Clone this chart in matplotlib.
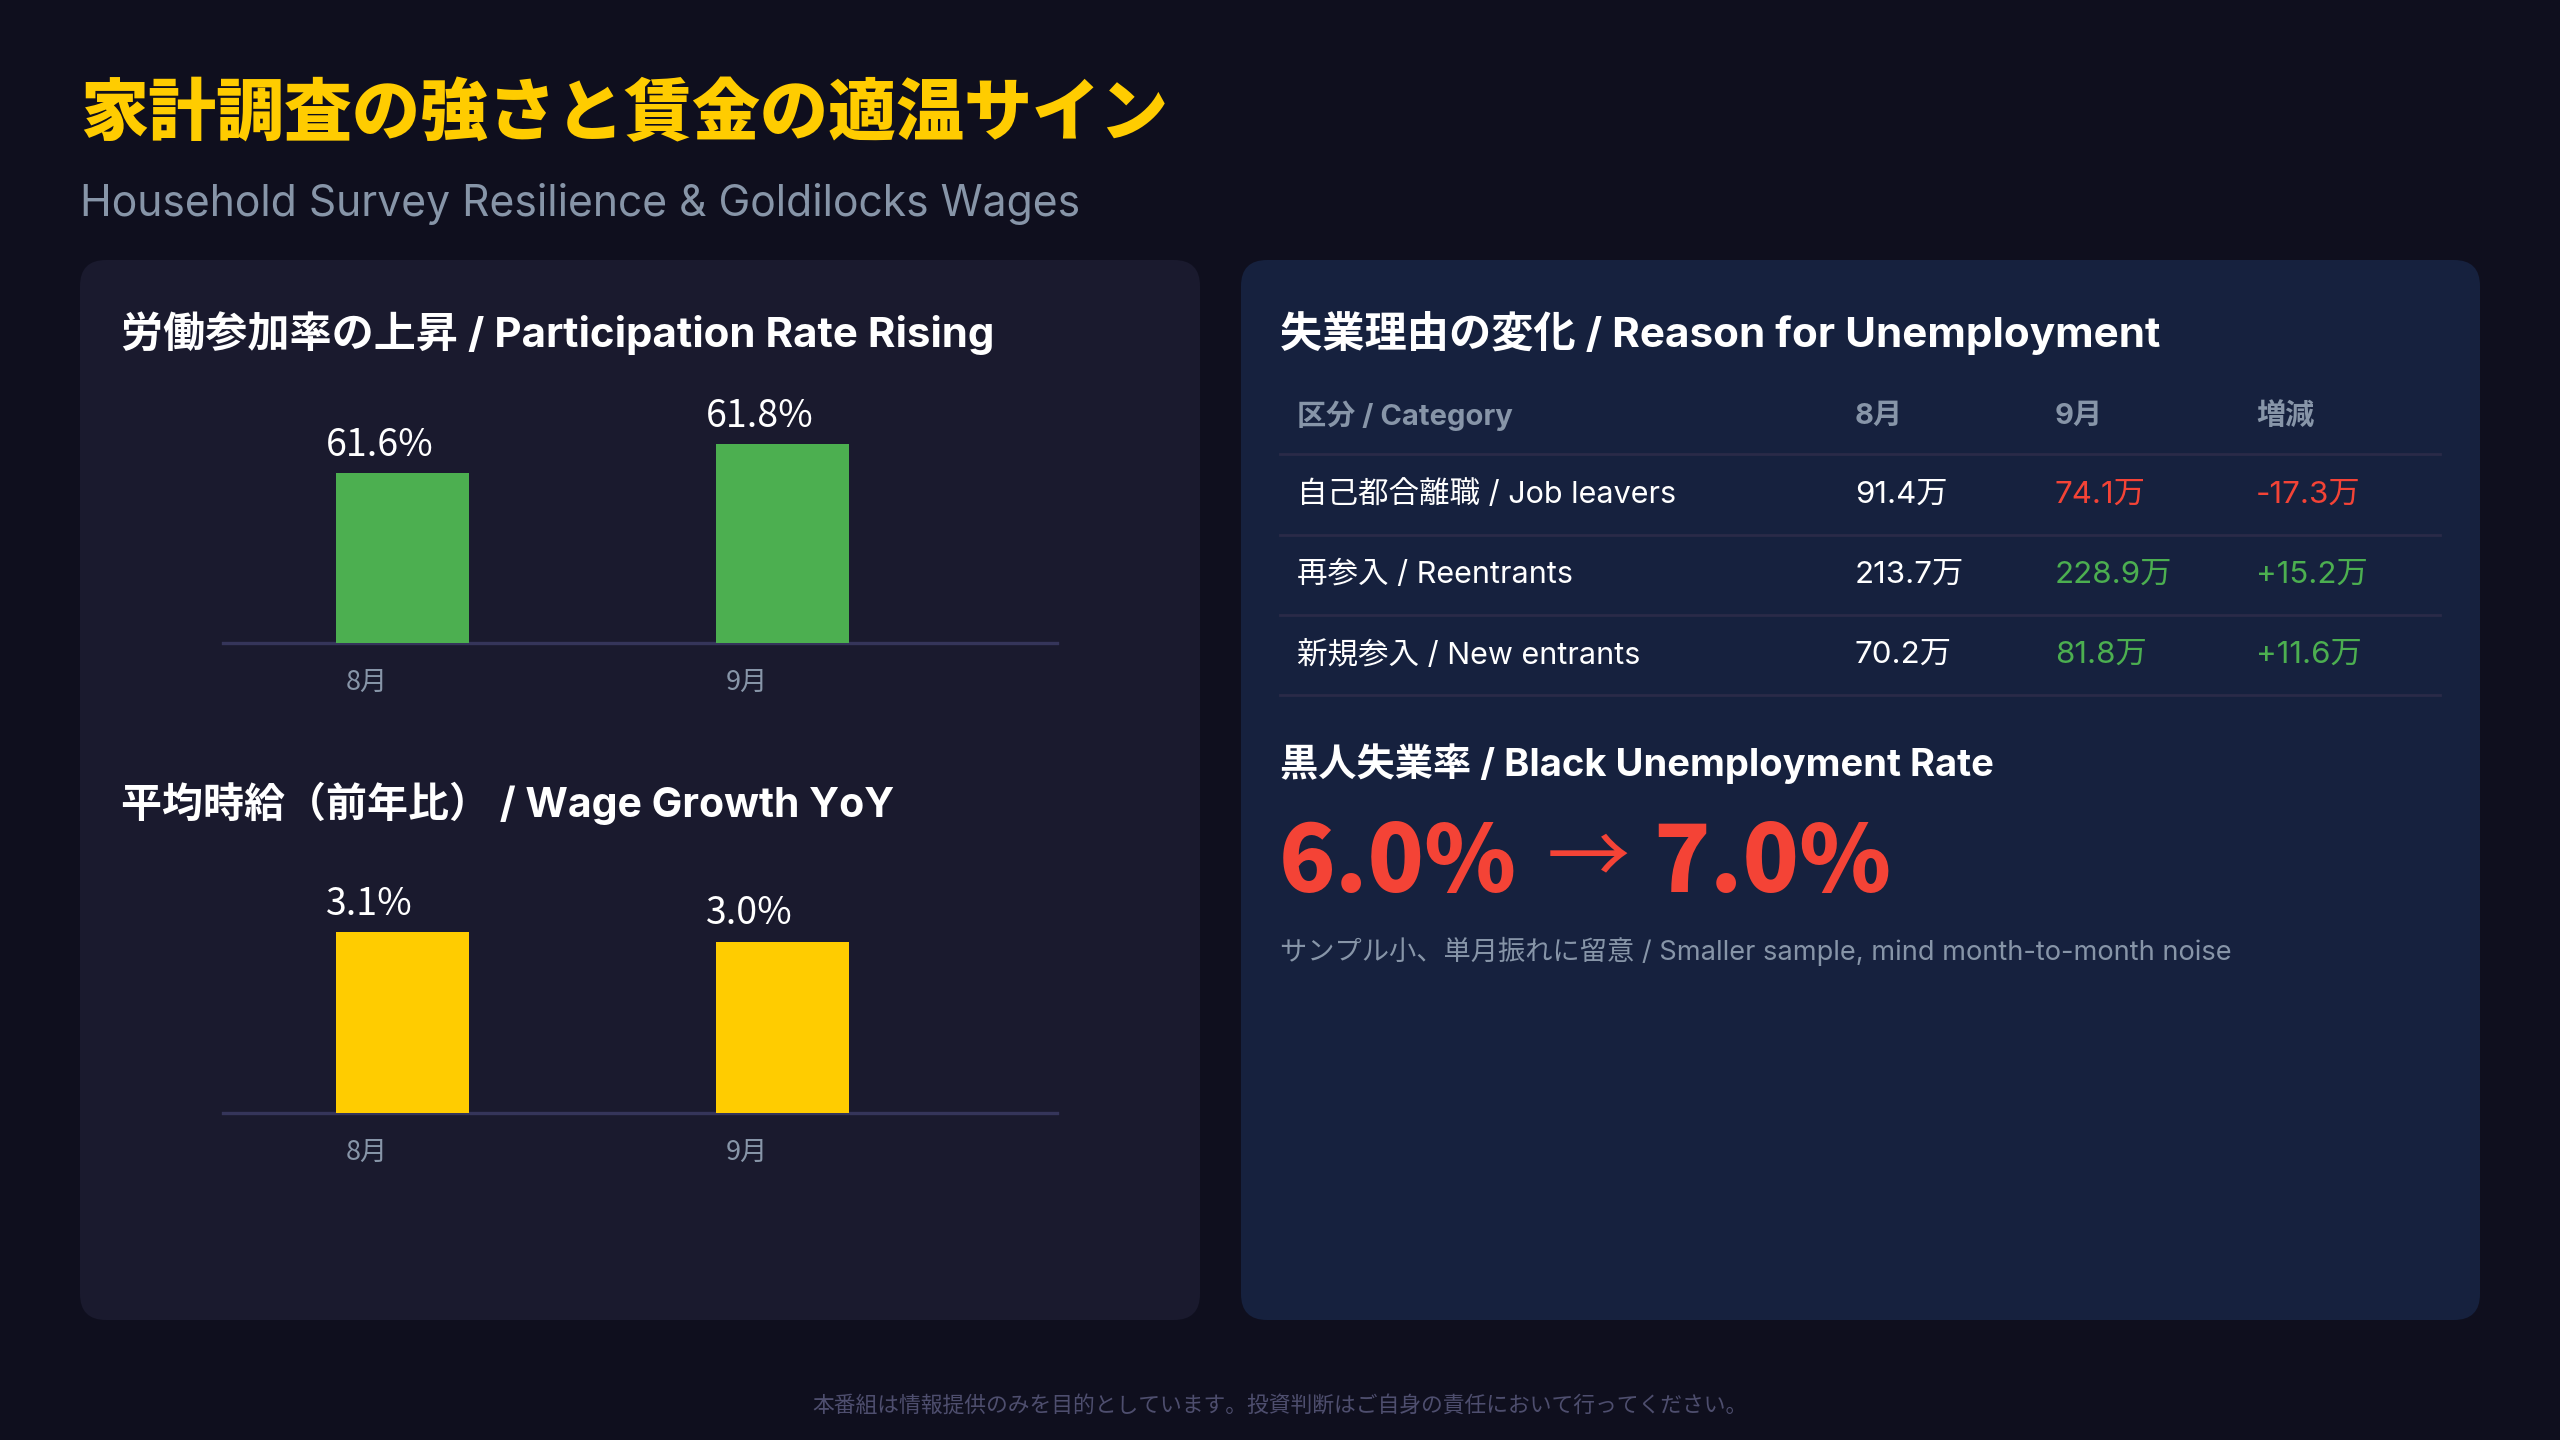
import matplotlib
matplotlib.use("Agg")
import matplotlib.pyplot as plt
from matplotlib.patches import FancyBboxPatch

plt.rcParams['font.family'] = ['Noto Sans CJK JP', 'DejaVu Sans']
MIX = ['Inter', 'Noto Sans CJK JP', 'DejaVu Sans']

# data
months = ['8月', '9月']
participation = [61.6, 61.8]
wage_growth = [3.1, 3.0]

reasons = ['自己都合離職 / Job leavers', '再参入 / Reentrants', '新規参入 / New entrants']
reason_aug = [91.4, 213.7, 70.2]
reason_sep = [74.1, 228.9, 81.8]
table_header = ['区分 / Category', '8月', '9月', '増減']

black_rate = [6.0, 7.0]

title = '家計調査の強さと賃金の適温サイン'
subtitle = 'Household Survey Resilience & Goldilocks Wages'
footer = '本番組は情報提供のみを目的としています。投資判断はご自身の責任において行ってください。'

# colours
BG = '#0f0f1e'
PANEL_L = '#1a1a2e'
PANEL_R = '#16213e'
YELLOW = '#ffcc00'
GREEN = '#4caf50'
RED = '#f44336'
GREY = '#8795a8'
LINE = '#2a2a48'
AXLINE = '#35355a'

W, H = 2560, 1440
fig = plt.figure(figsize=(W / 100, H / 100), dpi=100)
fig.patch.set_facecolor(BG)

bg = fig.add_axes([0, 0, 1, 1])
bg.set_xlim(0, W)
bg.set_ylim(H, 0)
bg.axis('off')

# panels
bg.add_patch(FancyBboxPatch((80, 260), 1120, 1060, boxstyle="round,pad=0,rounding_size=26",
                            fc=PANEL_L, ec='none'))
bg.add_patch(FancyBboxPatch((1241, 260), 1239, 1060, boxstyle="round,pad=0,rounding_size=26",
                            fc=PANEL_R, ec='none'))

# header
bg.text(80, 115, title, color=YELLOW, fontsize=49, fontweight='black', va='center', ha='left')
bg.text(80, 204, subtitle, color=GREY, fontsize=30.7, va='center', ha='left', family=MIX)
bg.text(1280, 1406, footer, color='#4e4e6e', fontsize=15.7, va='center', ha='center')

# left panel titles
bg.text(121, 333, '労働参加率の上昇 / Participation Rate Rising', color='white',
        fontsize=30.3, fontweight='bold', va='center', ha='left', family=MIX)
bg.text(121, 803, '平均時給（前年比） / Wage Growth YoY', color='white',
        fontsize=29.5, fontweight='bold', va='center', ha='left', family=MIX)


def px_axes(left, top, width, height):
    return fig.add_axes([left / W, 1 - (top + height) / H, width / W, height / H])


def bar_chart(ax, values, color, ymin, ppu, height):
    bw = 0.352
    x = range(len(values))
    ax.set_xlim(-0.4724, 1.7224)
    ax.set_ylim(ymin, ymin + height / ppu)
    ax.axhline(ymin, color=AXLINE, lw=2.4, zorder=0, clip_on=False)
    ax.bar(x, values, width=bw, color=color, zorder=2)
    for i, v in enumerate(values):
        ax.annotate(f'{v:.1f}%', xy=(i - bw / 2, v), xytext=(-10, 28), textcoords='offset pixels',
                    ha='left', va='center', color='white', fontsize=27, annotation_clip=False)
        ax.annotate(months[i], xy=(i - bw / 2, ymin), xytext=(10, -40), textcoords='offset pixels',
                    ha='left', va='center', color=GREY, fontsize=19.5, annotation_clip=False)
    ax.axis('off')


ax1 = px_axes(223, 392.7, 834, 250)
bar_chart(ax1, participation, GREEN, 60.43, 145, 250)
ax2 = px_axes(223, 862.5, 834, 250)
bar_chart(ax2, wage_growth, YELLOW, 1.22, 96, 250)

# right panel: table
bg.text(1280, 333, '失業理由の変化 / Reason for Unemployment', color='white',
        fontsize=30.4, fontweight='bold', va='center', ha='left', family=MIX)
col_x = [1297, 1855, 2055, 2256]
for cx, h in zip(col_x, table_header):
    bg.text(cx, 416, h, color=GREY, fontsize=21, fontweight='bold', va='center', ha='left', family=MIX)
bg.plot([1280, 2440], [454, 454], color=LINE, lw=2)
for r, name in enumerate(reasons):
    y = 495 + 80 * r
    d = reason_sep[r] - reason_aug[r]
    c = RED if d < 0 else GREEN
    bg.text(col_x[0], y, name, color='white', fontsize=22, va='center', ha='left', family=MIX)
    bg.text(col_x[1], y, f'{reason_aug[r]:.1f}万', color='white', fontsize=22.5, va='center',
            ha='left', family=MIX)
    bg.text(col_x[2], y, f'{reason_sep[r]:.1f}万', color=c, fontsize=22.5, va='center',
            ha='left', family=MIX)
    bg.text(col_x[3], y, f'{d:+.1f}万', color=c, fontsize=22.5, va='center', ha='left', family=MIX)
    bg.plot([1280, 2440], [y + 40, y + 40], color=LINE, lw=2)

# black unemployment
bg.text(1280, 764, '黒人失業率 / Black Unemployment Rate', color='white',
        fontsize=27.5, fontweight='bold', va='center', ha='left', family=MIX)
bg.text(1279, 864, f'{black_rate[0]:.1f}%', color=RED, fontsize=67, fontweight='black',
        va='center', ha='left')
bg.text(1547, 860, '→', color=RED, fontsize=60, va='center', ha='left')
bg.text(1653, 864, f'{black_rate[1]:.1f}%', color=RED, fontsize=67, fontweight='black',
        va='center', ha='left')
bg.text(1280, 951, 'サンプル小、単月振れに留意 / Smaller sample, mind month-to-month noise',
        color=GREY, fontsize=19.6, va='center', ha='left', family=MIX)

fig.savefig('out.png', dpi=100, facecolor=BG)
